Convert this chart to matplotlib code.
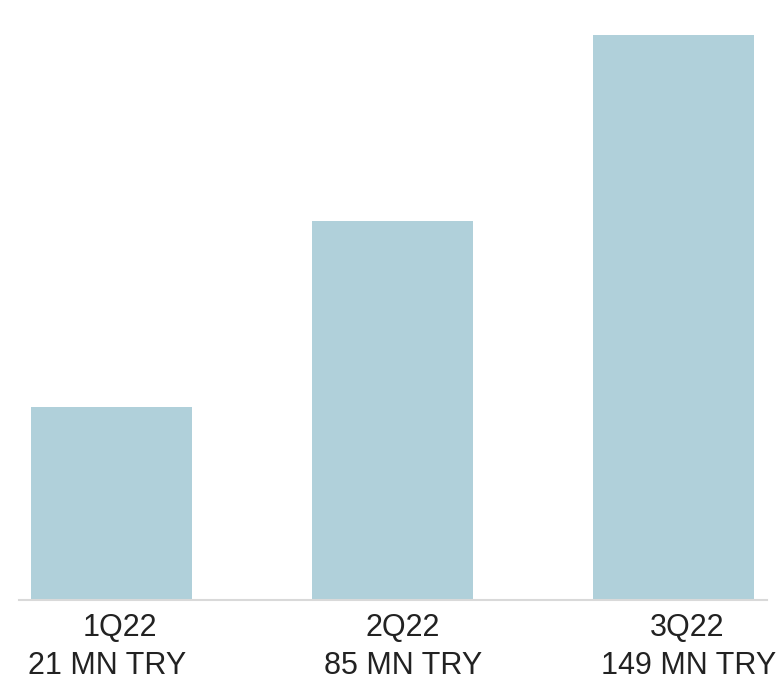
import numpy as np
import matplotlib.pyplot as plt
from matplotlib import transforms

quarters = ["1Q22", "2Q22", "3Q22"]
values = [21, 85, 149]          # MN TRY
value_labels = ["21 MN TRY", "85 MN TRY", "149 MN TRY"]

bar_color = "#b0d0da"
text_color = "#222222"
floor = -45.5                   # axis starts below zero

plt.rcParams['font.family'] = ['Liberation Sans', 'DejaVu Sans']

fig = plt.figure(figsize=(7.82, 6.87), dpi=100)
ax = fig.add_axes([19 / 782, 87 / 687, 748 / 782, 600 / 687])

x = np.arange(len(quarters))
ax.bar(x, np.array(values) - floor, bottom=floor, width=0.573,
       color=bar_color, linewidth=0)

ax.set_xlim(-0.329, 2.333)
ax.set_ylim(floor, 161)

for s in ("top", "left", "right"):
    ax.spines[s].set_visible(False)
ax.spines["bottom"].set_color("#d9d9d9")
ax.spines["bottom"].set_linewidth(1.5)
ax.spines["bottom"].set_position(("data", floor))
ax.set_xticks([])
ax.set_yticks([])

# two-line labels under each bar, nudged right a little (points)
q_shift = [6, 7.5, 9.5]
v_shift = [-3, 7.5, 11]
trans = transforms.blended_transform_factory(ax.transData, ax.transAxes)
for xi, q, v, dq, dv in zip(x, quarters, value_labels, q_shift, v_shift):
    ax.annotate(q, (xi, 0), xycoords=trans, xytext=(dq, -9.5),
                textcoords="offset points", ha="center", va="top",
                fontsize=22, color=text_color, annotation_clip=False)
    ax.annotate(v, (xi, 0), xycoords=trans, xytext=(dv, -37),
                textcoords="offset points", ha="center", va="top",
                fontsize=22, color=text_color, annotation_clip=False)

fig.savefig("out.png", dpi=100)
